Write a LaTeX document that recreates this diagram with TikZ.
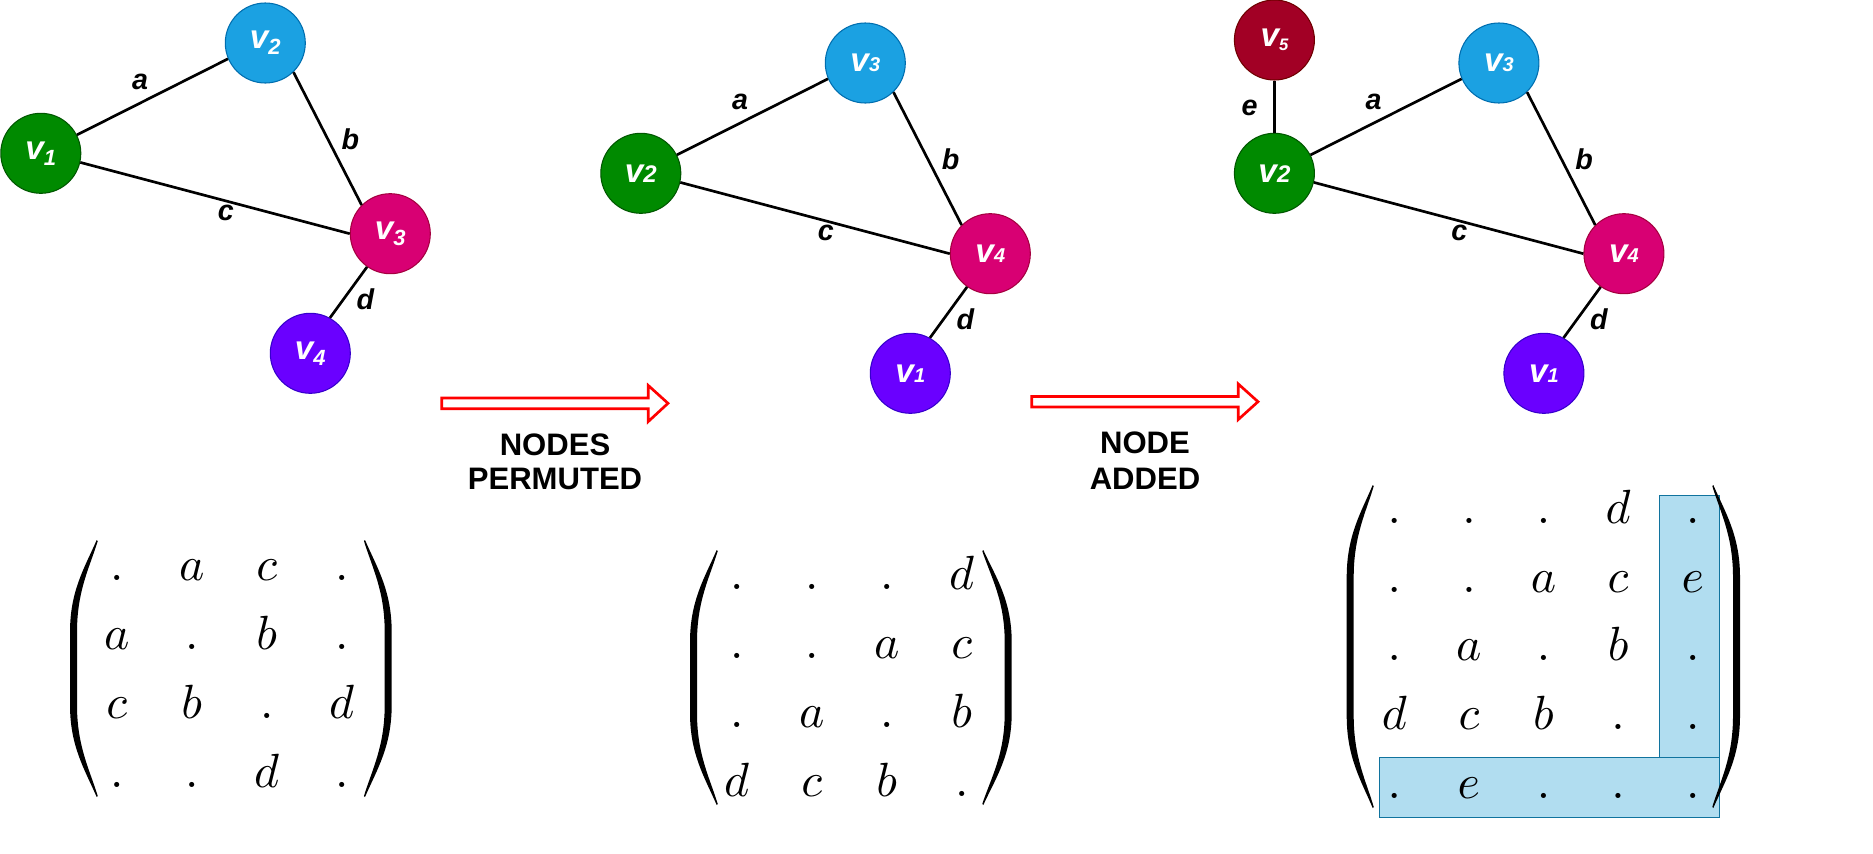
\RequirePackage{fix-cm}
\documentclass[tikz,border=0pt]{standalone}
\usepackage{graphicx}
\usepackage{fontspec}
\newfontfamily\lab{Liberation Sans}
\definecolor{gfill}{HTML}{008A00}\definecolor{gline}{HTML}{005700}
\definecolor{bfill}{HTML}{1BA1E2}\definecolor{bline}{HTML}{006EAF}
\definecolor{pfill}{HTML}{D80073}\definecolor{pline}{HTML}{A50040}
\definecolor{vfill}{HTML}{6A00FF}\definecolor{vline}{HTML}{3700CC}
\definecolor{rfill}{HTML}{A20025}\definecolor{rline}{HTML}{6F0000}
\definecolor{hfill}{HTML}{B1DDF0}\definecolor{hline}{HTML}{10739E}
\newcommand\vsub[1]{{\fontsize{25}{25}\selectfont v}\raisebox{-4.5pt}{\fontsize{16.5}{16.5}\selectfont #1}}
\newcommand\vsm[2]{{\fontsize{25}{25}\selectfont v}{\fontsize{#1}{#1}\selectfont #2}}
\newcommand\vfive{{\fontsize{25}{25}\selectfont v}\raisebox{-3pt}{\fontsize{12.5}{12.5}\selectfont 5}}
% #1 outer extreme x, #2 tip x, #3 top y, #4 bottom y, #5 signed thickness
\newcommand\drawparen[5]{%
  \pgfmathsetmacro\parCX{#2-0.45*(#2-#1)}%
  \pgfmathsetmacro\parCXi{\parCX+0.7*#5}%
  \fill ({#2},{#3}) .. controls (\parCX,{#3+27.6}) and ({#1},{#3+50.6}) .. ({#1},{#3+92})
    -- ({#1},{#4-92}) .. controls ({#1},{#4-50.6}) and (\parCX,{#4-27.6}) .. ({#2},{#4})
    -- ({#2+0.15*#5},{#4-1}) .. controls (\parCXi,{#4-27.6}) and ({#1+#5},{#4-50.6}) .. ({#1+#5},{#4-92})
    -- ({#1+#5},{#3+92}) .. controls ({#1+#5},{#3+50.6}) and (\parCXi,{#3+27.6}) .. ({#2+0.15*#5},{#3+1}) -- cycle;}
\tikzset{
  vtx/.style={circle, minimum size=60pt, inner sep=0pt, line width=0.8pt, text=white, font=\lab\bfseries\itshape},
  gv/.style={vtx, fill=gfill, draw=gline},
  bv/.style={vtx, fill=bfill, draw=bline},
  pv/.style={vtx, fill=pfill, draw=pline},
  uv/.style={vtx, fill=vfill, draw=vline},
  rv/.style={vtx, fill=rfill, draw=rline},
  conn/.style={line width=2pt, black},
  elab/.style={anchor=base, inner sep=0pt, font=\lab\bfseries\itshape\fontsize{21.5}{21.5}\selectfont},
  captxt/.style={anchor=base, inner sep=0pt, font=\lab\bfseries\fontsize{23.3}{23.3}\selectfont},
  ent/.style={anchor=base, inner sep=0pt},
  bigarrow/.style={draw=red, line width=2pt, fill=white, line join=miter},
  hlbox/.style={fill=hfill, draw=hline, line width=0.8pt, inner sep=0pt}
}
\begin{document}
\begin{tikzpicture}[x=0.75pt, y=-0.75pt]
\useasboundingbox (0,0) rectangle (1873,853);
% ---------- graph 1
\node[gv] (g1v1) at (40.8,153.3) {\vsub{1}};
\node[bv] (g1v2) at (265.3,43) {\vsub{2}};
\node[pv] (g1v3) at (390.3,233.7) {\vsub{3}};
\node[uv] (g1v4) at (310.3,353.3) {\vsub{4}};
\draw[conn] (g1v1.27) -- (g1v2.203);
\draw[conn] (g1v2.-46) -- (g1v3.135);
\draw[conn] (g1v1.-13) -- (g1v3.180);
\draw[conn] (g1v3.-125) -- (g1v4.61);
\node[elab] (g1a) at (140,89.3) {a};
\node[elab] (g1b) at (350.5,149.3) {b};
\node[elab] (g1c) at (225.8,220) {c};
\node[elab] (g1d) at (365.3,309.3) {d};
% ---------- graph 2
\node[gv] (g2v2) at (640.8,173.3) {\vsm{18}{2}};
\node[bv] (g2v3) at (865.3,63) {\vsm{15}{3}};
\node[pv] (g2v4) at (990.3,253.7) {\vsm{15}{4}};
\node[uv] (g2v1) at (910.3,373.3) {\vsm{15}{1}};
\draw[conn] (g2v2.27) -- (g2v3.203);
\draw[conn] (g2v3.-46) -- (g2v4.135);
\draw[conn] (g2v2.-13) -- (g2v4.180);
\draw[conn] (g2v4.-125) -- (g2v1.61);
\node[elab] (g2a) at (740,109.3) {a};
\node[elab] (g2b) at (950.5,169.3) {b};
\node[elab] (g2c) at (825.8,240) {c};
\node[elab] (g2d) at (965.3,329.3) {d};
% ---------- graph 3
\node[gv] (g3v2) at (1274.4,173.3) {\vsm{18}{2}};
\node[bv] (g3v3) at (1498.9,63) {\vsm{15}{3}};
\node[pv] (g3v4) at (1623.9,253.7) {\vsm{15}{4}};
\node[uv] (g3v1) at (1543.9,373.3) {\vsm{15}{1}};
\node[rv] (g3v5) at (1274.4,40) {\vfive};
\draw[conn] (g3v2.27) -- (g3v3.203);
\draw[conn] (g3v3.-46) -- (g3v4.135);
\draw[conn] (g3v2.-13) -- (g3v4.180);
\draw[conn] (g3v4.-125) -- (g3v1.61);
\draw[conn] (g3v5.south) -- (g3v2.north);
\node[elab] (g3a) at (1373.6,109.3) {a};
\node[elab] (g3b) at (1584.1,169.3) {b};
\node[elab] (g3c) at (1459.4,240) {c};
\node[elab] (g3d) at (1598.9,329.3) {d};
\node[elab] (g3e) at (1249.5,115) {e};
% ---------- arrows and captions
\draw[bigarrow] (441.7,398) -- (648.3,398) -- (648.3,385.5) -- (668,403.3) -- (648.3,421.5) -- (648.3,408.7) -- (441.7,408.7) -- cycle;
\node[captxt] (t1a) at (555,455) {NODES};
\node[captxt] (t1b) at (555,489.3) {PERMUTED};
\draw[bigarrow] (1031.7,396.5) -- (1238.3,396.5) -- (1238.3,384) -- (1258,401.7) -- (1238.3,419.5) -- (1238.3,407) -- (1031.7,407) -- cycle;
\node[captxt] (t2a) at (1145,453.3) {NODE};
\node[captxt] (t2b) at (1145,489.3) {ADDED};
% ---------- matrix 1
\foreach [count=\r] \row in {{.,a,c,.},{a,.,b,.},{c,b,.,d},{.,.,d,.}} {
  \foreach [count=\c] \e in \row {
    \node[ent] (m1-\r-\c) at ({116.7+75*(\c-1)},{580+69*(\r-1)}) {\scalebox{3.6}{$\e$}};
  }
}
\drawparen{70}{96.7}{540}{797}{7}
\drawparen{391.7}{365}{540}{797}{-7}
% ---------- matrix 2
\foreach [count=\r] \row in {{.,.,.,d},{.,.,a,c},{.,a,.,b},{d,c,b,.}} {
  \foreach [count=\c] \e in \row {
    \node[ent] (m2-\r-\c) at ({736.7+75*(\c-1)},{589+69*(\r-1)}) {\scalebox{3.6}{$\e$}};
  }
}
\drawparen{690}{716.7}{550}{805}{7}
\drawparen{1011.7}{983.3}{550}{805}{-7}
% ---------- matrix 3
\node[hlbox, minimum width=45pt, minimum height=196.2pt] (hv) at (1689.3,626.5) {};
\node[hlbox, minimum width=255pt, minimum height=45pt] (hh) at (1549.3,787.3) {};
\foreach [count=\r] \row in {{.,.,.,d,.},{.,.,a,c,e},{.,a,.,b,.},{d,c,b,.,.},{.,e,.,.,.}} {
  \foreach [count=\c] \e in \row {
    \node[ent] (m3-\r-\c) at ({1394.3+74.6*(\c-1)},{523.3+68.75*(\r-1)}) {\scalebox{3.6}{$\e$}};
  }
}
\drawparen{1346.7}{1372.7}{485}{808}{7}
\drawparen{1740}{1713.3}{485}{808}{-7}
\end{tikzpicture}
\end{document}
